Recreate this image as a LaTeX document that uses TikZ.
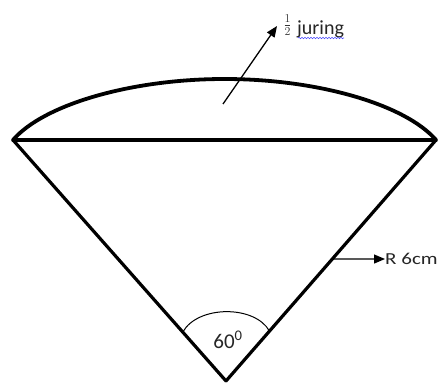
\documentclass[tikz,border=0pt]{standalone}
\usepackage{fontspec}
\setmainfont{Carlito}
\usetikzlibrary{arrows.meta,decorations.pathmorphing,calc}
\tikzset{
  thick line/.style={line width=3.2pt, line cap=round},
  arc line/.style={line width=3.8pt, line cap=round},
  pointer/.style={line width=1.3pt, -{Triangle[length=11pt,width=9pt]}},
  label text/.style={inner sep=0pt, font=\fontsize{20}{24}\selectfont, text=black!85},
}
\begin{document}
\begin{tikzpicture}[x=1pt,y=-1pt]
\useasboundingbox (0,0) rectangle (438,385);
\fill[white] (0,0) rectangle (438,385);
% main points
\coordinate (L) at (13,140);
\coordinate (R) at (436,140);
\coordinate (B) at (226,381);
\coordinate (T) at (224.5,79);
% arc cap
\draw[arc line] (L) .. controls (43,105) and (130,79) .. (T)
      .. controls (319,79) and (406,105) .. (R);
% chord and sides
\draw[thick line] (L) -- (R);
\draw[thick line] (L) -- (B);
\draw[thick line] (R) -- (B);
% angle arc
\coordinate (aL) at ($(L)!0.797!(B)$);
\coordinate (aR) at ($(R)!0.793!(B)$);
\draw[line width=1pt] (aL) .. controls (198,305) and (255,305) .. (aR);
\node[label text, font=\fontsize{21}{24}\selectfont] (ang) at (228,340) {60\textsuperscript{0}};
% juring pointer
\coordinate (p1) at (223,104);
\node[inner sep=0pt, font=\fontsize{17}{20}\selectfont, text=black!80] (half) at (287.5,25) {$\frac{1}{2}$};
\node[label text, anchor=base west] (jur) at (297,35) {juring};
\coordinate (tip1) at (277,26);
\draw[pointer] (p1) -- (tip1);
\draw[blue!70!white, line width=0.6pt, decorate,
      decoration={snake, segment length=3pt, amplitude=0.7pt}]
      (298,38) -- (344,38);
% radius pointer
\coordinate (r1) at ($(R)!0.494!(B)$);
\node[label text, anchor=west, font=\fontsize{21}{24}\selectfont, yscale=0.8] (rad) at (385,259) {R 6cm};
\draw[pointer] (r1) -- (rad.west);
\end{tikzpicture}
\end{document}
